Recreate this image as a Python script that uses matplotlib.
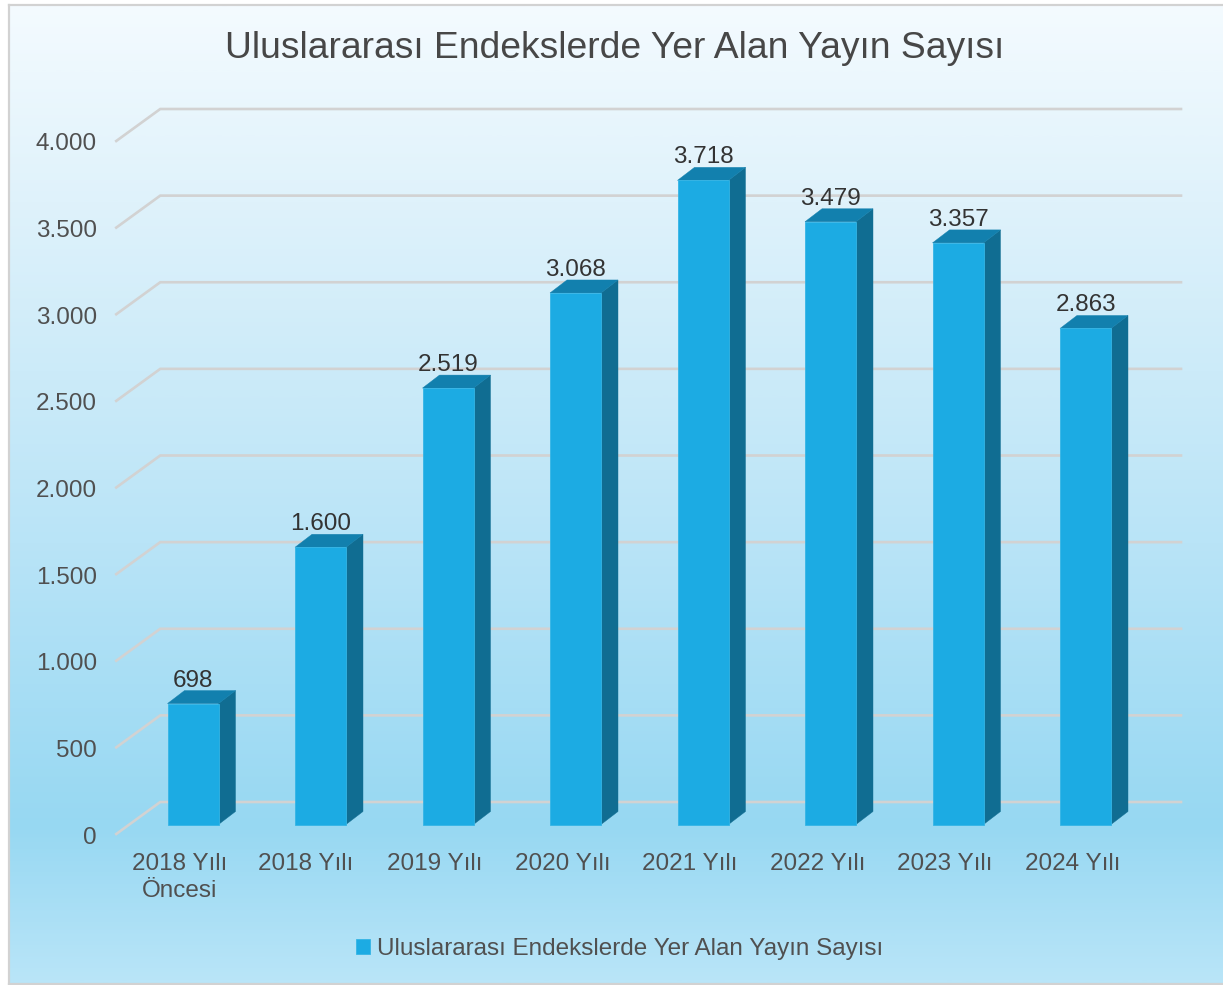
import numpy as np
import matplotlib
matplotlib.use("Agg")
import matplotlib.pyplot as plt
from matplotlib.transforms import ScaledTranslation
from matplotlib.colors import LinearSegmentedColormap

title = "Uluslararası Endekslerde Yer Alan Yayın Sayısı"
categories = ["2018 Yılı\nÖncesi", "2018 Yılı", "2019 Yılı", "2020 Yılı",
              "2021 Yılı", "2022 Yılı", "2023 Yılı", "2024 Yılı"]
values = [698, 1600, 2519, 3068, 3718, 3479, 3357, 2863]
y_ticks = [0, 500, 1000, 1500, 2000, 2500, 3000, 3500, 4000]

W, H = 1223, 985
plt.rcParams['font.family'] = ['Liberation Sans', 'DejaVu Sans']
fig = plt.figure(figsize=(W / 100, H / 100), dpi=100, facecolor='white')

def px_box(l, t, r, b):
    return [l / W, 1 - b / H, (r - l) / W, (b - t) / H]

def shift(px, py):
    return ScaledTranslation(px / 100, py / 100, fig.dpi_scale_trans)

# background panel with vertical gradient
bg = fig.add_axes(px_box(9, 5, W, 983.5), zorder=0)
cmap = LinearSegmentedColormap.from_list("bg", [
    (0.00, "#F4FBFF"), (0.20, "#DFF2FB"), (0.55, "#B9E4F7"),
    (0.84, "#97D8F2"), (1.00, "#B9E5F8")])
bg.imshow(np.linspace(0, 1, 512)[:, None], aspect='auto', cmap=cmap, vmin=0, vmax=1)
bg.set_xticks([]); bg.set_yticks([])
for s in bg.spines.values():
    s.set_color("#D2D2D2"); s.set_linewidth(1.6)
bg.spines['right'].set_visible(False)

# main axes: the front plane of the 3-D box
L, R, T, B = 116.25, 1136.25, 141.0, 834.0
ax = fig.add_axes(px_box(L, T, R, B), zorder=1)
ax.patch.set_alpha(0)
ax.set_xlim(-0.5, 7.5)
ax.set_ylim(0, 4000)
for s in ax.spines.values():
    s.set_visible(False)

px_x = (R - L) / 8          # pixels per category
px_y = (B - T) / 4000       # pixels per value unit
def dx(p): return p / px_x
def dy(p): return p / px_y

GRID = "#D2D2D2"
xs = np.arange(len(categories))

# gridlines, running back from the front plane
for v in y_ticks:
    ax.plot([-0.5, -0.5 + dx(44), 7.5 + dx(44.75)],
            [v, v + dy(32), v + dy(32)],
            color=GRID, lw=1.9, clip_on=False, zorder=1, solid_joinstyle='miter')

# bars
bar_w = dx(51)
depth_x, depth_y = dx(17), dy(13)
FRONT, SIDE, TOP = "#1CABE3", "#106D92", "#1280AE"
plane = ax.transData + shift(13, 9.5)
bars = ax.bar(xs, values, width=bar_w, color=FRONT, edgecolor="#35B5E6", linewidth=0.6,
              transform=plane, zorder=4, clip_on=False,
              label="Uluslararası Endekslerde Yer Alan Yayın Sayısı")
for x, v in zip(xs, values):
    xr, xl = x + bar_w / 2, x - bar_w / 2
    ax.fill([xr, xr + depth_x, xr + depth_x, xr],
            [0, depth_y, v + depth_y, v],
            color=SIDE, lw=0.3, transform=plane, zorder=3, clip_on=False)
    ax.fill([xl, xl + depth_x, xr + depth_x, xr],
            [v, v + depth_y, v + depth_y, v],
            color=TOP, lw=0.3, transform=plane, zorder=3, clip_on=False)
    ax.annotate(f"{v:,}".replace(",", "."), xy=(x, v), xycoords=plane,
                xytext=(0.2, 23 * 0.72), textcoords='offset points',
                ha='center', va='center', fontsize=17.5, color="#333333", zorder=6)

# axes text
ax.set_xticks(xs)
ax.set_xticklabels(categories, fontsize=17.5, color="#505050", linespacing=1.33)
ax.set_yticks(y_ticks)
ax.set_yticklabels([f"{v:,}".replace(",", ".") for v in y_ticks],
                   fontsize=17.5, color="#505050")
ax.tick_params(axis='both', length=0)
ax.tick_params(axis='x', pad=13.5)
ax.tick_params(axis='y', pad=14)
for lbl in ax.get_yticklabels():
    lbl.set_transform(lbl.get_transform() + shift(0, -1))
second = ax.get_xticklabels()[1]
second.set_transform(second.get_transform() + shift(-2, 0))

fig.text(615 / W, 1 - 49 / H, title, ha='center', va='center',
         fontsize=26.8, color="#474747")

leg = fig.legend(handles=[bars], loc='center', bbox_to_anchor=(619.5 / W, 1 - 949 / H),
                 frameon=False, fontsize=17.5, labelcolor="#505050",
                 handlelength=0.58, handleheight=0.58, handletextpad=0.25)

fig.savefig("out.png", dpi=100)
